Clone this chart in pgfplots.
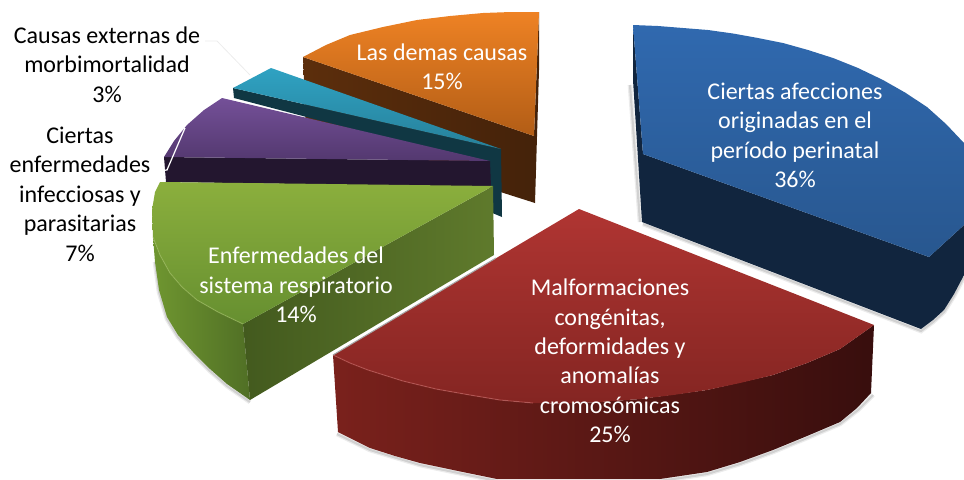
\documentclass[border=0pt]{standalone}
\usepackage{pgfplots}
\pgfplotsset{compat=1.18}
\usepackage{fontspec}
\setmainfont{Carlito}
\definecolor{bT}{HTML}{3069AF}\definecolor{bB}{HTML}{28578F}\definecolor{bS}{HTML}{11253E}
\definecolor{rT}{HTML}{B03532}\definecolor{rB}{HTML}{842522}\definecolor{rL}{HTML}{7A211C}\definecolor{rR}{HTML}{380E0D}
\definecolor{gT}{HTML}{8BAF3D}\definecolor{gB}{HTML}{668F30}\definecolor{gL}{HTML}{6F9630}\definecolor{gM}{HTML}{506F25}\definecolor{gR}{HTML}{435A1E}\definecolor{gU}{HTML}{5F7A2C}
\definecolor{pT}{HTML}{745098}\definecolor{pB}{HTML}{53386F}\definecolor{pS}{HTML}{23162F}
\definecolor{tT}{HTML}{2FA2C2}\definecolor{tB}{HTML}{27809A}\definecolor{tS}{HTML}{103743}
\definecolor{oT}{HTML}{EE8224}\definecolor{oB}{HTML}{B25D16}\definecolor{oL}{HTML}{5C2E0C}\definecolor{oR}{HTML}{44220A}
\tikzset{lbl/.style={align=center,font=\fontsize{18}{22.1}\selectfont},
 wl/.style={lbl,text=white},
 shA/.style={gray,opacity=.15,line width=3.5pt},shB/.style={gray,opacity=.25,line width=1.6pt}}
\begin{document}
\begin{tikzpicture}
\begin{axis}[scale only axis,width=723pt,height=359.25pt,xmin=0,xmax=964,ymin=0,ymax=479,y dir=reverse,axis lines=none,clip=true]
\addplot[draw=none,forget plot] coordinates {(0,0)(964,479)};
% soft shadows
\addplot[shA] coordinates {(630,85)(640,222)};
\addplot[shB] coordinates {(630,85)(640,222)};
\addplot[shA] coordinates {(643,224)(921,331)(933,322)(944,312)(954,296)(964,277)};
\addplot[shB] coordinates {(643,224)(921,331)(933,322)(944,312)(954,296)(964,277)};
\addplot[shA] coordinates {(337,434)(370,450)(420,465)(497,481)};
\addplot[shB] coordinates {(337,434)(370,450)(420,465)(497,481)};
\addplot[shA] coordinates {(660,481)(707,474)(740,464)(773,452)(807,438)(840,424)(858,410)(873,395)};
\addplot[shB] coordinates {(660,481)(707,474)(740,464)(773,452)(807,438)(840,424)(858,410)(873,395)};
\addplot[shA] coordinates {(155,262)(159,292)(167,319)(178,337)(193,354)(210,371)(227,386)(250,402)};
\addplot[shB] coordinates {(155,262)(159,292)(167,319)(178,337)(193,354)(210,371)(227,386)(250,402)};
% Las demas causas
\addplot[draw=none,left color=oL,right color=oR] coordinates {(303,57)(306,130)(535,203)(539,70)(539,12)(534,136)} -- cycle;
\addplot[draw=none,top color=oT,bottom color=oB] coordinates {(303,57)(326,45)(350,35)(383,27)(417,20)(450,16)(483,13)(511,12)(539,12)(534,136)} -- cycle;
% Causas externas
\addplot[draw=none,fill=tS] coordinates {(233,88)(234,98)(490,165)(490,212)(502,217)(501,149)} -- cycle;
\addplot[draw=none,top color=tT,bottom color=tB] coordinates {(271,68)(233,88)(501,149)} -- cycle;
% Ciertas enfermedades
\addplot[draw=none,fill=pS] coordinates {(164,157)(166,182)(491,187)(490,161)} -- cycle;
\addplot[draw=none,top color=pT,bottom color=pB] coordinates {(222,98)(204,110)(187,125)(174,141)(164,157)(490,161)} -- cycle;
% Enfermedades del sistema respiratorio
\addplot[draw=none,left color=gL,right color=gM] coordinates {(153,237)(155,262)(159,290)(167,317)(178,335)(193,352)(210,369)(227,384)(250,400)(243,324)(218,312)(197,300)(182,287)(170,273)(160,255)} -- cycle;
\addplot[draw=none,left color=gR,right color=gU] coordinates {(243,324)(250,400)(494,255)(493,186)} -- cycle;
\addplot[draw=none,top color=gT,bottom color=gB] coordinates {(160,182)(155,192)(152,210)(153,237)(160,255)(170,273)(182,287)(197,300)(218,312)(243,324)(493,186)} -- cycle;
\addplot[color=gT!80!white,opacity=.5,line width=.8pt] coordinates {(153,237)(160,255)(170,273)(182,287)(197,300)(218,312)(243,324)};
% Ciertas afecciones
\addplot[draw=none,fill=bS] coordinates {(633,25)(643,154)(929,257)(964,225)(964,275)(954,294)(944,310)(933,320)(921,329)(642,222)(633,80)} -- cycle;
\addplot[draw=none,top color=bT,bottom color=bB] coordinates {(633,25)(658,26)(683,28)(708,30)(733,33.5)(758,38)(783,43)(808,50)(833,58)(858,68)(883,80)(905,92.5)(927,107)(946,124)(964,143)(964,225)(929,257)(643,154)} -- cycle;
% Malformaciones
\addplot[draw=none,left color=rL,right color=rR] coordinates {(333,355)(338,432)(370,448)(395,456)(420,463)(458,471)(497,479)(660,479)(707,472)(740,462)(773,450)(807,436)(840,422)(857,408)(871,393)(874,325)(840,349)(807,363)(773,375)(707,390)(640,399)(600,402)(560,403.5)(533,403)(500,400)(470,395)(436,389)(403,381)(368,370)(350,363)} -- cycle;
\addplot[draw=none,top color=rT,bottom color=rB] coordinates {(579,209)(874,325)(840,349)(807,363)(773,375)(740,383)(707,390)(673,395)(640,399)(600,402)(560,403.5)(533,403)(500,400)(470,395)(436,389)(403,381)(368,370)(350,363)(333,355)} -- cycle;
\addplot[color=rT!80!white,opacity=.6,line width=.8pt] coordinates {(333,355)(350,363)(368,370)(403,381)(436,389)(470,395)(500,400)(533,403)};
\addplot[color=gray!70,line width=.8pt] coordinates {(333,355)(496,258)};
% leaders
\addplot[color=gray!15,line width=.6pt] coordinates {(205,41)(217,41)(250,75)};
\addplot[color=white,line width=.9pt] coordinates {(185,128)(167,170)(157,171)};
% labels
\node[wl] at (axis cs:795,135.5) {Ciertas afecciones\\originadas en el\\período perinatal\\36\%};
\node[wl] at (axis cs:610,361) {Malformaciones\\congénitas,\\deformidades y\\anomalías\\cromosómicas\\25\%};
\node[wl] at (axis cs:296,285) {Enfermedades del\\sistema respiratorio\\14\%};
\node[wl] at (axis cs:442,67) {Las demas causas\\15\%};
\node[lbl] at (axis cs:107,64.5) {Causas externas de\\morbimortalidad\\3\%};
\node[lbl] at (axis cs:80,194) {Ciertas\\enfermedades\\infecciosas y\\parasitarias\\7\%};
\end{axis}
\end{tikzpicture}
\end{document}
